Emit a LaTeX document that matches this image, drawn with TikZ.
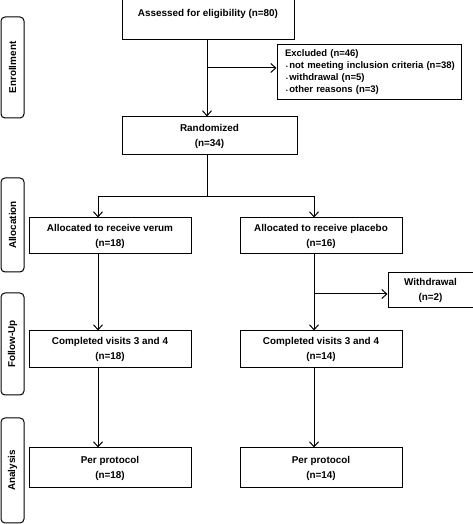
\documentclass[tikz,border=0pt]{standalone}
\usepackage{fontspec}
\setmainfont{Liberation Sans}
\usetikzlibrary{arrows.meta}

\tikzset{
  box/.style={draw, line width=1pt, align=center, inner sep=2pt, font=\fontsize{9.9}{15}\selectfont\bfseries},
  stage/.style={draw, line width=1pt, rounded corners=4pt, rotate=90, minimum height=23pt, inner sep=0pt, font=\fontsize{9.9}{12}\selectfont\bfseries},
  flow/.style={line width=1pt, -{Straight Barb[length=5pt, width=9pt, line width=1pt]}}
}

\begin{document}
\begin{tikzpicture}[x=1pt, y=1pt]
                \useasboundingbox (0,0) rectangle (473,524);
                \node[stage, minimum width=101pt] (enrol) at (12.5,456.5) {Enrollment};
                \node[stage, minimum width=94pt] (allocst) at (12.5,299) {Allocation};
                \node[stage, minimum width=102pt] (follow) at (12.5,180) {Follow-Up};
                \node[stage, minimum width=105pt] (analysis) at (12.5,53.5) {Analysis};
                \node[box, minimum width=172pt, minimum height=40pt] (assess) at (208,504) {Assessed for eligibility (n=80)\\ \mbox{}};
                \node[box, align=left, text width=178pt, inner xsep=3pt, minimum height=55pt, font=\fontsize{9.5}{12}\selectfont\bfseries] (excl) at (369,451.5) {\mbox{\hspace*{5pt}Excluded (n=46)}\\
                  \mbox{\hspace*{6pt}{\tiny\textbullet}\,not meeting inclusion criteria (n=38)}\\
                  \mbox{\hspace*{6pt}{\tiny\textbullet}\,withdrawal (n=5)}\\
                  \mbox{\hspace*{6pt}{\tiny\textbullet}\,other reasons (n=3)}};
                \node[box, minimum width=175pt, minimum height=38pt] (rand) at (209.5,388) {Randomized\\(n=34)};
                \node[box, minimum width=162pt, minimum height=36pt] (allocL) at (110,288) {Allocated to receive verum\\(n=18)};
                \node[box, minimum width=162pt, minimum height=36pt] (allocR) at (321,288) {Allocated to receive placebo\\(n=16)};
                \node[box, minimum width=85pt, minimum height=35pt] (withd) at (430.5,233.5) {Withdrawal\\(n=2)};
                \node[box, minimum width=162pt, minimum height=37pt] (compL) at (110,174.5) {Completed visits 3 and 4\\(n=18)};
                \node[box, minimum width=162pt, minimum height=37pt] (compR) at (321,174.5) {Completed visits 3 and 4\\(n=14)};
                \node[box, minimum width=162pt, minimum height=40pt] (ppL) at (110,56) {Per protocol\\(n=18)};
                \node[box, minimum width=162pt, minimum height=40pt] (ppR) at (321,56) {Per protocol\\(n=14)};
                \coordinate (exsplit) at (207,456);
                \coordinate (split) at (207,327);
                \coordinate (colL) at (98,0);
                \coordinate (colR) at (314,0);
                \coordinate (wdsplit) at (314,230);
                \draw[flow] (assess.south -| exsplit) -- (rand.north -| exsplit);
                \draw[flow] (exsplit) -- (exsplit -| excl.west);
                \draw[line width=1pt] (rand.south -| split) -- (split);
                \draw[flow] (split) -| (allocL.north -| colL);
                \draw[flow] (split) -| (allocR.north -| colR);
                \draw[flow] (allocL.south -| colL) -- (compL.north -| colL);
                \draw[flow] (allocR.south -| colR) -- (compR.north -| colR);
                \draw[flow] (wdsplit) -- (wdsplit -| withd.west);
                \draw[flow] (compL.south -| colL) -- (ppL.north -| colL);
                \draw[flow] (compR.south -| colR) -- (ppR.north -| colR);
            \end{tikzpicture}
\end{document}
